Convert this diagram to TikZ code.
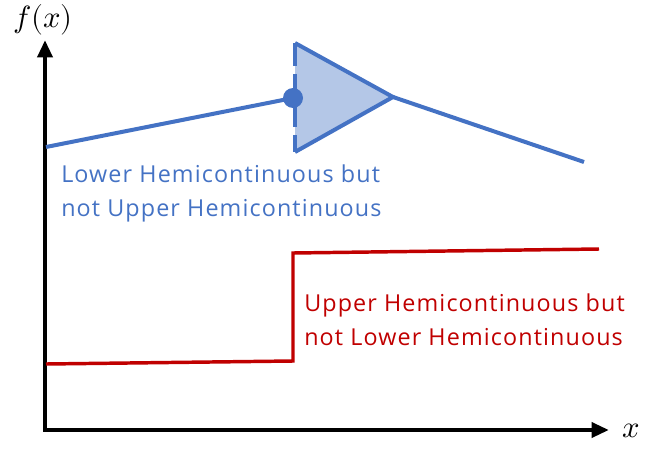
\documentclass[tikz,border=0pt]{standalone}
\usepackage{fontspec}
\usepackage{unicode-math}
\setmainfont{Open Sans}[LetterSpace=4.8]
\setmathfont{Latin Modern Math}
\usepackage{tikz}
\usetikzlibrary{arrows.meta, positioning, calc}
\definecolor{lhcBlue}{HTML}{4472C4}
\definecolor{lhcFill}{HTML}{B4C7E7}
\definecolor{uhcRed}{HTML}{C00000}
\tikzstyle{axis} = [-{Triangle[length=13pt, width=11pt]}, line width=3.6pt, color=black]
\tikzstyle{bluecurve} = [line width=3pt, color=lhcBlue]
\tikzstyle{redcurve} = [line width=2.6pt, color=uhcRed]
\tikzstyle{caption} = [font=\fontsize{17.5}{25.5}\selectfont, align=left, anchor=north west, inner sep=0pt]
\tikzstyle{axlabel} = [font=\fontsize{23}{24}\selectfont, inner sep=0pt]

\begin{document}
\begin{tikzpicture}[x=0.75pt, y=-0.75pt]
  \useasboundingbox (0,0) rectangle (650,457);

  % Axes
  \coordinate (O) at (45,430);
  \coordinate (ytop) at (45,40);
  \coordinate (xend) at (609,430);
  \draw[axis] (O) -- (ytop);
  \draw[axis] ($(O)+(-1.8,0)$) -- (xend);
  \node[axlabel] (fx) at (43,20) {$f(x)$};
  \node[axlabel] (xl) at (631,431) {$x$};

  % Lower hemicontinuous correspondence
  \coordinate (b0) at (46,147);
  \coordinate (bd) at (293,98);
  \coordinate (ttop) at (295,43);
  \coordinate (tbot) at (295,152);
  \coordinate (tip) at (393,97);
  \coordinate (b1) at (584,162);
  \fill[lhcFill] (ttop) -- (tip) -- (tbot) -- cycle;
  \draw[bluecurve, line join=miter] (ttop) -- (tip) -- (tbot);
  \draw[bluecurve, dash pattern=on 17pt off 6pt] (ttop) -- (tbot);
  \draw[bluecurve] (b0) -- (bd);
  \draw[bluecurve] (tip) -- (b1);
  \fill[lhcBlue] (bd) circle (7.5pt);
  \node[caption, text=lhcBlue] (lhc) at (61,165) {Lower Hemicontinuous but\\not Upper Hemicontinuous};

  % Upper hemicontinuous correspondence
  \coordinate (r0) at (46,364);
  \coordinate (r1) at (293,361);
  \coordinate (r2) at (293,253);
  \coordinate (r3) at (599,249);
  \draw[redcurve, line join=miter] (r0) -- (r1) -- (r2) -- (r3);
  \node[caption, text=uhcRed] (uhc) at (304,294) {Upper Hemicontinuous but\\not Lower Hemicontinuous};
\end{tikzpicture}
\end{document}
